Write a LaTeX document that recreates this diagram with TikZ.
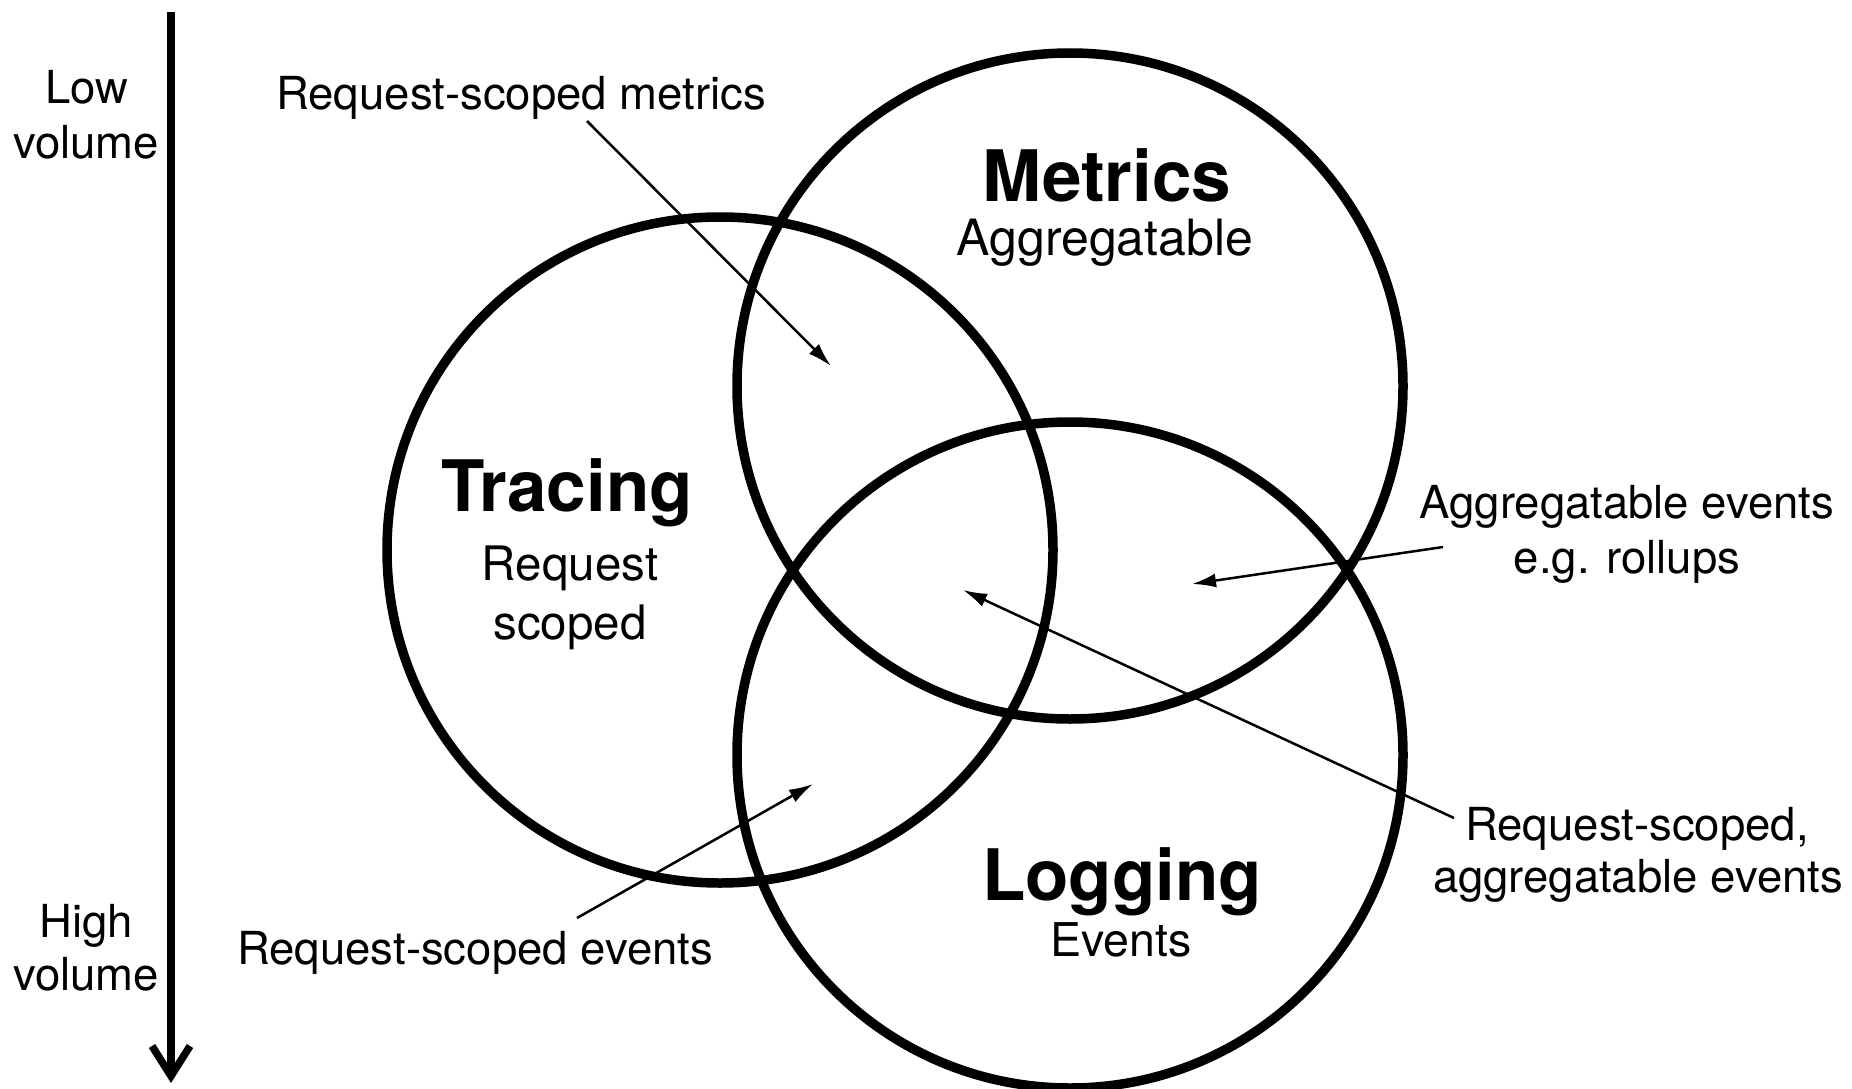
\documentclass[tikz,border=0pt]{standalone}
\usepackage{fontspec}
\setmainfont{TeX Gyre Heros}
\usetikzlibrary{arrows.meta}
\begin{document}
\begin{tikzpicture}[x=1pt,y=-1pt,
  venn/.style={line width=9.5pt},
  lbl/.style={inner sep=0pt,anchor=base,font=\fontsize{45.5}{51}\selectfont},
  ttl/.style={inner sep=0pt,anchor=base,font=\fontsize{71}{80}\selectfont\bfseries},
  sub/.style={inner sep=0pt,anchor=base},
  pointer/.style={line width=2.5pt,-{Latex[length=24pt,width=14pt]}},
  axis/.style={line width=7.5pt,-{Straight Barb[length=30pt,width=38pt]}}]
\useasboundingbox (0,0) rectangle (1852,1089);
% circles
\coordinate (ct) at (720,550);
\coordinate (cm) at (1070,386);
\coordinate (cl) at (1070,755);
\draw[venn] (ct) circle (333);
\draw[venn] (cm) circle (333);
\draw[venn] (cl) circle (333);
% volume axis
\coordinate (atop) at (171,12);
\coordinate (abot) at (171,1083);
\draw[axis] (atop) -- (abot);
\node[lbl] (low1) at (87,104) {Low};
\node[lbl] (low2) at (86,158) {volume};
\node[lbl] (high1) at (86,937) {High};
\node[lbl] (high2) at (86,990) {volume};
% titles
\node[ttl] (metrics) at (1107,201) {Metrics};
\node[sub,font=\fontsize{50}{56}\selectfont] (metricssub) at (1105,255) {Aggregatable};
\node[ttl] (tracing) at (567,511) {Tracing};
\node[sub,font=\fontsize{47.5}{56}\selectfont] (tracingsub1) at (570,580) {Request};
\node[sub,font=\fontsize{47.5}{56}\selectfont] (tracingsub2) at (570,639) {scoped};
\node[ttl] (logging) at (1122,900) {Logging};
\node[sub,font=\fontsize{46.5}{56}\selectfont] (loggingsub) at (1121,956) {Events};
% labels
\node[lbl] (rsm) at (521,110) {Request-scoped metrics};
\node[lbl] (ae1) at (1627,518) {Aggregatable events};
\node[lbl] (ae2) at (1627,573) {e.g. rollups};
\node[lbl] (rsa1) at (1637,840) {Request-scoped,};
\node[lbl] (rsa2) at (1638,892) {aggregatable events};
\node[lbl] (rse) at (475,964) {Request-scoped events};
% pointers
\coordinate (p1s) at (587,121);
\coordinate (p1e) at (831,366);
\coordinate (p2s) at (1443,547);
\coordinate (p2e) at (1192,584);
\coordinate (p3s) at (1454,818);
\coordinate (p3e) at (963,590);
\coordinate (p4s) at (577,918);
\coordinate (p4e) at (813,784);
\draw[pointer] (p1s) -- (p1e);
\draw[pointer] (p2s) -- (p2e);
\draw[pointer] (p3s) -- (p3e);
\draw[pointer] (p4s) -- (p4e);
\end{tikzpicture}
\end{document}
